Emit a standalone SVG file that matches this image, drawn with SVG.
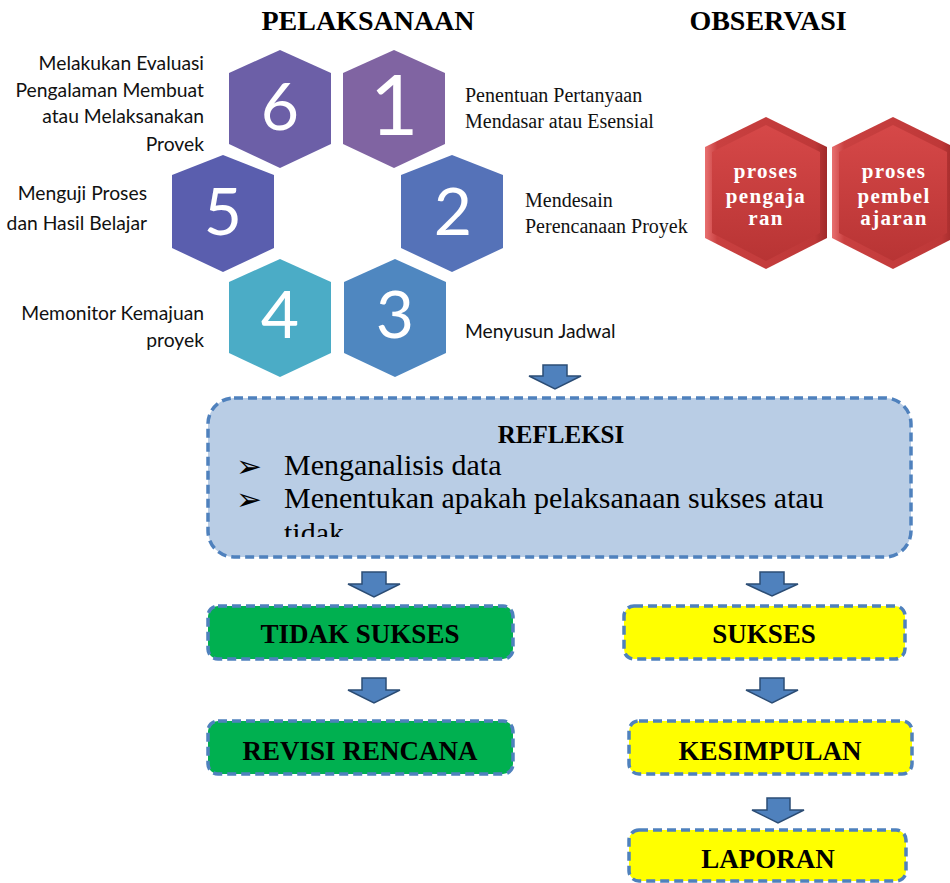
<svg xmlns="http://www.w3.org/2000/svg" width="950" height="883" viewBox="0 0 950 883">
<style>
.hdr{font-family:"Liberation Serif",serif;font-weight:bold;font-size:28px;fill:#000;text-anchor:middle}
.num{font-family:Lato,"Open Sans",sans-serif;font-size:66px;fill:#fff;text-anchor:middle}
.lbl{font-family:Lato,"Open Sans",sans-serif;font-size:19.3px;fill:#111;text-anchor:end}
.lbls{font-family:Lato,"Open Sans",sans-serif;font-size:19.3px;fill:#111}
.lblr{font-family:"Liberation Serif",serif;font-size:20px;fill:#111}
.red{font-family:"Liberation Serif",serif;font-weight:bold;font-size:21px;fill:#fff;text-anchor:middle;letter-spacing:1.3px}
.box{stroke:#4F81BD;stroke-width:3.5;stroke-dasharray:9 5}
.blab{font-family:"Liberation Serif",serif;font-weight:bold;font-size:27px;fill:#000;text-anchor:middle}
.ref{font-family:"Liberation Serif",serif;font-size:30px;fill:#000}
.bul{font-family:"DejaVu Sans",sans-serif;font-size:31px;fill:#000}
.arr{fill:#4F81BD;stroke:#2C4D75;stroke-width:1.5;stroke-linejoin:miter}
</style>
<defs>
<linearGradient id="redOuter" x1="0" y1="0" x2="1" y2="0">
<stop offset="0" stop-color="#E87070"/>
<stop offset="0.1" stop-color="#C94040"/>
<stop offset="0.9" stop-color="#BE3838"/>
<stop offset="1" stop-color="#A02A2A"/>
</linearGradient>
<linearGradient id="redInner" x1="0" y1="0" x2="0" y2="1">
<stop offset="0" stop-color="#D64848"/>
<stop offset="1" stop-color="#B83434"/>
</linearGradient>
<clipPath id="refClip"><rect x="200" y="380" width="720" height="157"/></clipPath>
</defs>
<rect width="950" height="883" fill="#fff"/>

<text class="hdr" x="368" y="30">PELAKSANAAN</text>
<text class="hdr" x="768" y="30">OBSERVASI</text>

<g id="hex6">
<polygon points="280,50 331,73 331,144 280,168 229,144 229,73" fill="#6C5FA7"/>
<text class="num" x="280" y="130">6</text>
</g>
<g id="hex1">
<polygon points="394,50 445,73 445,144 394,168 343,144 343,73" fill="#8064A2"/>
<text class="num" x="394" y="135" style="font-size:84px">1</text>
</g>
<g id="hex5">
<polygon points="223,155 274,175 274,248 223,272 172,248 172,175" fill="#5A5EAE"/>
<text class="num" x="223" y="235">5</text>
</g>
<g id="hex2">
<polygon points="452,155 503,175 503,248 452,272 401,248 401,175" fill="#5572B8"/>
<text class="num" x="453" y="235">2</text>
</g>
<g id="hex4">
<polygon points="280,259 331,282 331,353 280,377 229,353 229,282" fill="#4BACC6"/>
<text class="num" x="280" y="338">4</text>
</g>
<g id="hex3">
<polygon points="395,259 446,282 446,353 395,377 344,353 344,282" fill="#4F87C0"/>
<text class="num" x="395" y="338">3</text>
</g>

<g id="labels-left">
<text class="lbl" x="204" y="70">Melakukan Evaluasi</text>
<text class="lbl" x="204" y="97">Pengalaman Membuat</text>
<text class="lbl" x="204" y="123">atau Melaksanakan</text>
<text class="lbl" x="204" y="151">Provek</text>
<text class="lbl" x="147" y="200">Menguji Proses</text>
<text class="lbl" x="147" y="230">dan Hasil Belajar</text>
<text class="lbl" x="204" y="320">Memonitor Kemajuan</text>
<text class="lbl" x="204" y="347">proyek</text>
</g>
<g id="labels-right">
<text class="lblr" x="465" y="102">Penentuan Pertanyaan</text>
<text class="lblr" x="465" y="128">Mendasar atau Esensial</text>
<text class="lblr" x="525" y="207">Mendesain</text>
<text class="lblr" x="525" y="233">Perencanaan Proyek</text>
<text class="lbls" x="465" y="338">Menyusun Jadwal</text>
</g>

<g id="obs1">
<polygon points="766,117 827,147 827,238 766,269 705,238 705,147" fill="url(#redOuter)"/>
<polygon points="766,125 820,152 820,233 766,261 712,233 712,152" fill="url(#redInner)"/>
<text class="red" x="766" y="178">proses</text>
<text class="red" x="766" y="203">pengaja</text>
<text class="red" x="766" y="225">ran</text>
</g>
<g id="obs2">
<polygon points="893,117 954,147 954,238 893,269 832,238 832,147" fill="url(#redOuter)"/>
<polygon points="893,125 947,152 947,233 893,261 839,233 839,152" fill="url(#redInner)"/>
<text class="red" x="894" y="178">proses</text>
<text class="red" x="894" y="203">pembel</text>
<text class="red" x="894" y="225">ajaran</text>
</g>

<g id="refleksi">
<rect class="box" x="208" y="398" width="703" height="159" rx="26" fill="#B9CDE5"/>
<text class="blab" x="561" y="443" style="font-size:25px">REFLEKSI</text>
<g clip-path="url(#refClip)">
<text class="bul" x="236" y="477">➢</text>
<text class="bul" x="236" y="510">➢</text>
<text class="ref" x="284" y="475">Menganalisis data</text>
<text class="ref" x="284" y="508">Menentukan apakah pelaksanaan sukses atau</text>
<text class="ref" x="284" y="543">tidak</text>
</g>
</g>

<g id="tidak-sukses">
<rect class="box" x="208" y="606" width="305" height="53" rx="10" fill="#00B050"/>
<text class="blab" x="360" y="643">TIDAK SUKSES</text>
</g>
<g id="revisi">
<rect class="box" x="208" y="721" width="305" height="53" rx="10" fill="#00B050"/>
<text class="blab" x="360" y="760">REVISI RENCANA</text>
</g>
<g id="sukses">
<rect class="box" x="624" y="606" width="281" height="53" rx="10" fill="#FFFF00"/>
<text class="blab" x="764" y="643">SUKSES</text>
</g>
<g id="kesimpulan">
<rect class="box" x="629" y="721" width="283" height="53" rx="10" fill="#FFFF00"/>
<text class="blab" x="770" y="760">KESIMPULAN</text>
</g>
<g id="laporan">
<rect class="box" x="629" y="830" width="277" height="51" rx="10" fill="#FFFF00"/>
<text class="blab" x="768" y="868">LAPORAN</text>
</g>

<g id="connectors">
<path class="arr" d="M543,365 H567 V376 H581 L555,389 L529,376 H543 Z"/>
<path class="arr" d="M362,572 H386 V584 H400 L374,597 L348,584 H362 Z"/>
<path class="arr" d="M760,572 H784 V584 H798 L772,596 L746,584 H760 Z"/>
<path class="arr" d="M362,678 H386 V690 H400 L374,703 L348,690 H362 Z"/>
<path class="arr" d="M760,678 H784 V690 H798 L772,703 L746,690 H760 Z"/>
<path class="arr" d="M767,798 H790 V810 H804 L778,823 L752,810 H767 Z"/>
</g>
</svg>
